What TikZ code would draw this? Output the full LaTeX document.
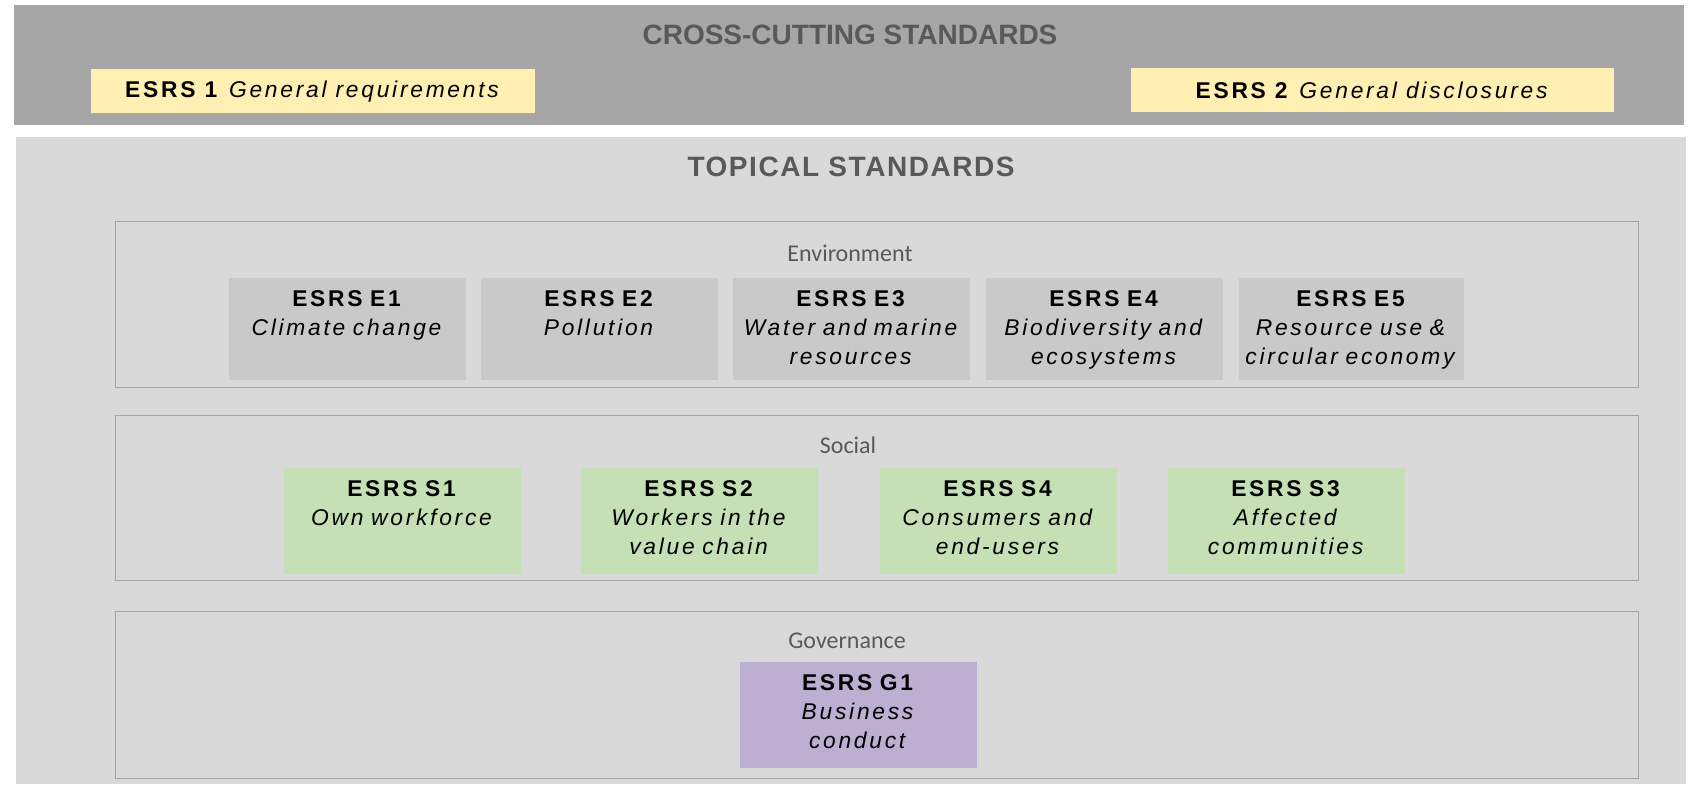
\documentclass[tikz,border=0pt]{standalone}
\usepackage{fontspec}
\setmainfont{Liberation Sans}
\newfontfamily\boxfont{Liberation Sans}[LetterSpace=12]
\newfontfamily\topfont{Liberation Sans}[LetterSpace=5.5]
\newfontfamily\groupfont{Carlito}
\usepackage{xcolor}
\usepackage{tikz}
\definecolor{crossgray}{HTML}{A6A6A6}
\definecolor{topicgray}{HTML}{D9D9D9}
\definecolor{envgray}{HTML}{C9C9C9}
\definecolor{framegray}{HTML}{A3A3A3}
\definecolor{titlegray}{HTML}{595959}
\definecolor{genyellow}{HTML}{FFEFB3}
\definecolor{socgreen}{HTML}{C5E0B4}
\definecolor{govpurple}{HTML}{BDAFD2}
\tikzset{
  stdband/.style={
    rectangle, anchor=north west, inner sep=0pt, minimum width=835pt
  },
  bandtitle/.style={
    font=\bfseries\fontsize{14}{16}\selectfont, text=titlegray
  },
  groupframe/.style={
    rectangle, anchor=north west, draw=framegray, line width=0.6pt,
    inner sep=0pt, minimum width=761.5pt
  },
  grouplabel/.style={font=\groupfont\fontsize{12}{14}\selectfont, text=titlegray},
  general/.style={
    rectangle, anchor=north west, fill=genyellow, inner sep=0pt,
    minimum height=22pt, font=\boxfont\fontsize{11.4}{14.5}\selectfont
  },
  esrs/.style={
    rectangle, anchor=north west, inner sep=0pt, align=center,
    text width=118.5pt, text height=14pt, text depth=37pt,
    font=\boxfont\fontsize{11.4}{14.5}\selectfont
  },
  envbox/.style={esrs, fill=envgray},
  socbox/.style={esrs, fill=socgreen, text depth=39pt},
  govbox/.style={esrs, fill=govpurple, text depth=39pt},
}

\begin{document}
\begin{tikzpicture}[x=0.5pt, y=-0.5pt]
  \useasboundingbox (0,0) rectangle (1691,784);

  % Bands
  \node[stdband, fill=crossgray, minimum height=60pt] (cross) at (14,5) {};
  \node[stdband, fill=topicgray, minimum height=323.5pt] (topical) at (16,137) {};
  \node[bandtitle] (crosstitle) at (850,34.5) {CROSS-CUTTING STANDARDS};
  \node[bandtitle, font=\topfont\bfseries\fontsize{14}{16}\selectfont] (topictitle)
    at (851,167) {TOPICAL STANDARDS};

  % Cross-cutting standards
  \node[general, minimum width=222pt] (esrs1) at (91,69)
    {\textbf{ESRS 1} \textit{General requirements}};
  \node[general, minimum width=241.5pt] (esrs2) at (1131,68)
    {\textbf{ESRS 2} \textit{General disclosures}};

  % Topic groups
  \node[groupframe, minimum height=83pt] (env) at (115,221) {};
  \node[groupframe, minimum height=82.5pt] (soc) at (115,415) {};
  \node[groupframe, minimum height=83.5pt] (gov) at (115,611) {};
  \node[grouplabel] (envlabel) at (850,253) {Environment};
  \node[grouplabel] (soclabel) at (848,445) {Social};
  \node[grouplabel] (govlabel) at (847,640.5) {Governance};

  % Environment
  \node[envbox] (e1) at (229,278) {\textbf{ESRS E1}\\\textit{Climate change}};
  \node[envbox] (e2) at (481,278) {\textbf{ESRS E2}\\\textit{Pollution}};
  \node[envbox] (e3) at (733,278) {\textbf{ESRS E3}\\\textit{Water and marine}\\\textit{resources}};
  \node[envbox] (e4) at (986,278) {\textbf{ESRS E4}\\\textit{Biodiversity and}\\\textit{ecosystems}};
  \node[envbox, text width=112.5pt] (e5) at (1239,278)
    {\textbf{ESRS E5}\\\textit{Resource use \&}\\\textit{circular economy}};

  % Social
  \node[socbox] (s1) at (284,468) {\textbf{ESRS S1}\\\textit{Own workforce}};
  \node[socbox] (s2) at (581,468) {\textbf{ESRS S2}\\\textit{Workers in the}\\\textit{value chain}};
  \node[socbox] (s4) at (880,468) {\textbf{ESRS S4}\\\textit{Consumers and}\\\textit{end-users}};
  \node[socbox] (s3) at (1168,468) {\textbf{ESRS S3}\\\textit{Affected}\\\textit{communities}};

  % Governance
  \node[govbox] (g1) at (740,662) {\textbf{ESRS G1}\\\textit{Business}\\\textit{conduct}};
\end{tikzpicture}
\end{document}
